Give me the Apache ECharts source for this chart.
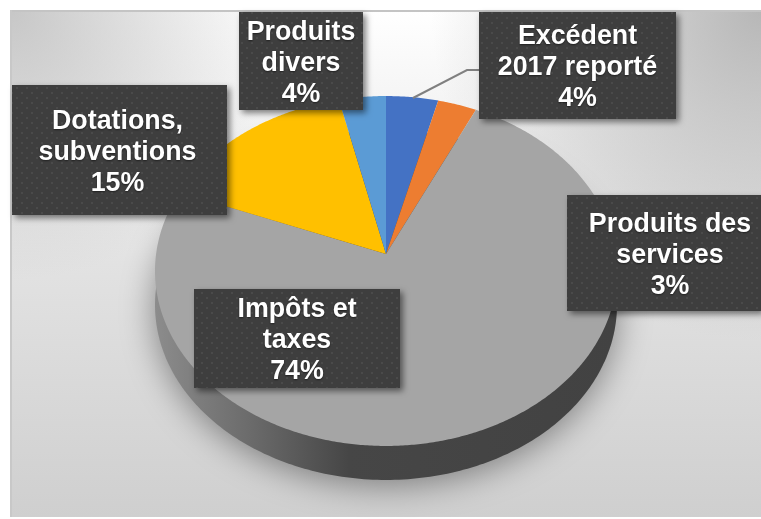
<!DOCTYPE html>
<html>
<head>
<meta charset="utf-8">
<style>html,body{margin:0;padding:0;background:#fff}#c{width:761px;height:519px}</style>
<script src="https://cdn.jsdelivr.net/npm/echarts@6/dist/echarts.min.js"></script>
</head>
<body>
<div id="c"></div>
<script>
const categories = ['Excédent\n2017 reporté', 'Produits des\nservices', 'Impôts et\ntaxes', 'Dotations,\nsubventions', 'Produits\ndivers'];
const values = [4, 3, 74, 15.4, 3.6];
const colors = ['#4472c4', '#ed7d31', '#a5a5a5', '#ffc000', '#5b9bd5'];

// Label boxes: left, top, right, bottom, text centre x offset
const boxes = [[479, 12, 676, 119, 0], [567, 195, 761, 311, 6], [194, 289, 400, 388, 0], [12, 85, 227, 215, -2], [239, 12, 363, 110, 0]];

// Perspective disc
const apexX = 386, apexY = 254, scaleX = 229.9, scaleY = 173.3, persp = 0.0971, depth = 34;
function project(deg) {
  const t = deg * Math.PI / 180, u = Math.sin(t), v = -Math.cos(t), w = 1 - persp * v;
  return [apexX + scaleX * u / w, apexY + scaleY * v / w];
}
const total = values.reduce((a, b) => a + b, 0);
function sliceAngles(i) {
  let s = 0;
  for (let k = 0; k < i; k++) s += values[k];
  return [s / total * 360, (s + values[i]) / total * 360];
}
function dots() {
  const c = document.createElement('canvas');
  c.width = 10; c.height = 10;
  const g = c.getContext('2d');
  g.fillStyle = '#3e3e3e'; g.fillRect(0, 0, 10, 10);
  g.fillStyle = '#4a4a4a';
  g.fillRect(1, 2, 2, 2); g.fillRect(6, 7, 2, 2);
  return c;
}
const pattern = { image: dots(), repeat: 'repeat' };
const R = echarts.graphic.RadialGradient;
const frame = { x: 10, y: 10, width: 751, height: 507 };

const chart = echarts.init(document.getElementById('c'), null, { renderer: 'canvas' });
chart.setOption({
  animation: false,
  backgroundColor: '#fff',
  graphic: {
    elements: [
      { type: 'rect', z: -10, shape: frame, style: { fill: new echarts.graphic.LinearGradient(0, 0, 0, 1, [{ offset: 0, color: '#ffffff' }, { offset: 0.5, color: '#e2e2e2' }, { offset: 1, color: '#cfcfcf' }]) } },
      { type: 'rect', z: -9, shape: frame, style: { fill: new R(10, 10, 270, [{ offset: 0, color: 'rgba(175,175,175,0.7)' }, { offset: 1, color: 'rgba(175,175,175,0)' }], true) } },
      { type: 'rect', z: -9, shape: frame, style: { fill: new R(761, 10, 330, [{ offset: 0, color: 'rgba(165,165,165,0.8)' }, { offset: 1, color: 'rgba(165,165,165,0)' }], true) } },
      { type: 'rect', z: -8, shape: { x: 10, y: 10, width: 751, height: 2 }, style: { fill: '#c4c4c4' } },
      { type: 'rect', z: -8, shape: { x: 10, y: 10, width: 2, height: 507 }, style: { fill: '#c8c8c8' } }
    ]
  },
  series: [
    {
      type: 'custom', coordinateSystem: 'none', z: 1, silent: true,
      data: [[values[2]]],
      renderItem() {
        const pts = [];
        for (let d = 0; d < 360; d += 1) { const p = project(d); pts.push([p[0], p[1] + depth]); }
        return {
          type: 'polygon', shape: { points: pts },
          style: {
            fill: new echarts.graphic.LinearGradient(0, 0, 1, 0, [{ offset: 0, color: '#8c8c8c' }, { offset: 0.2, color: '#6c6c6c' }, { offset: 0.42, color: '#464646' }, { offset: 1, color: '#424242' }]),
            shadowBlur: 34, shadowColor: 'rgba(0,0,0,0.42)', shadowOffsetY: 5
          }
        };
      }
    },
    {
      type: 'custom', coordinateSystem: 'none', z: 2, silent: true,
      data: values.map((v, i) => ({ name: categories[i], value: v })),
      renderItem(params) {
        const i = params.dataIndex, a = sliceAngles(i), pts = [[apexX, apexY]];
        for (let d = a[0]; d < a[1]; d += 0.5) pts.push(project(d));
        pts.push(project(a[1]));
        return { type: 'polygon', shape: { points: pts }, style: { fill: colors[i] } };
      }
    },
    {
      type: 'custom', coordinateSystem: 'none', z: 3, silent: true,
      data: values.map((v, i) => ({ name: categories[i], value: v })),
      renderItem(params) {
        const i = params.dataIndex, b = boxes[i], children = [];
        if (i === 0) {
          children.push({ type: 'polyline', shape: { points: [[413, 98], [467, 70], [479, 70]] }, style: { stroke: '#808080', lineWidth: 2, fill: null } });
        }
        children.push({
          type: 'rect', shape: { x: b[0], y: b[1], width: b[2] - b[0], height: b[3] - b[1] },
          style: { fill: pattern, shadowBlur: 6, shadowOffsetX: 3, shadowOffsetY: 3, shadowColor: 'rgba(0,0,0,0.5)' }
        });
        children.push({
          type: 'text',
          style: {
            x: (b[0] + b[2]) / 2 + b[4], y: (b[1] + b[3]) / 2 + 2.5,
            text: categories[i] + '\n' + Math.round(values[i] / total * 100) + '%',
            font: 'bold 26.8px "Liberation Sans", Arial, sans-serif',
            lineHeight: 31, align: 'center', verticalAlign: 'middle', fill: '#ffffff',
            textShadowColor: 'rgba(0,0,0,0.5)', textShadowBlur: 2, textShadowOffsetY: 1
          }
        });
        return { type: 'group', children };
      }
    }
  ]
});
</script>
</body>
</html>
